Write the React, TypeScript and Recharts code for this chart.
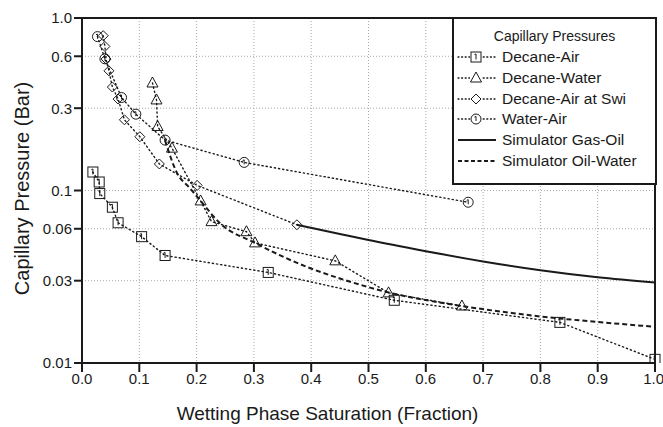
import React from "react";
import { ComposedChart, Line, XAxis, YAxis, CartesianGrid, ReferenceArea } from "recharts";

const SAT_TICKS = [0, 0.1, 0.2, 0.3, 0.4, 0.5, 0.6, 0.7, 0.8, 0.9, 1.0];
const PC_TICKS = [0.01, 0.03, 0.06, 0.1, 0.3, 0.6, 1];

// measured points (wetting saturation, capillary pressure in bar)
const decaneAirSw = [0.019, 0.030, 0.031, 0.053, 0.063, 0.104, 0.145, 0.325, 0.545, 0.834, 1.0];
const decaneAirPc = [0.128, 0.112, 0.096, 0.080, 0.065, 0.054, 0.042, 0.0335, 0.0231, 0.0172, 0.0105];

const decaneWaterSw = [0.123, 0.130, 0.132, 0.157, 0.207, 0.226, 0.287, 0.302, 0.442, 0.535, 0.663];
const decaneWaterPc = [0.42, 0.335, 0.235, 0.176, 0.087, 0.066, 0.0577, 0.0497, 0.0391, 0.0255, 0.0214];

const decaneAirSwiSw = [0.037, 0.040, 0.042, 0.047, 0.053, 0.063, 0.074, 0.101, 0.135, 0.201, 0.375];
const decaneAirSwiPc = [0.79, 0.684, 0.578, 0.494, 0.398, 0.339, 0.257, 0.205, 0.1425, 0.107, 0.0633];

const waterAirSw = [0.027, 0.040, 0.069, 0.094, 0.145, 0.283, 0.674];
const waterAirPc = [0.78, 0.58, 0.346, 0.277, 0.196, 0.1455, 0.0855];

// simulator curves
const gasOilSw = [0.375, 0.45, 0.5, 0.6, 0.7, 0.8, 0.9, 1.0];
const gasOilPc = [0.0633, 0.056, 0.0516, 0.0445, 0.0388, 0.0345, 0.0314, 0.0293];

const oilWaterSw = [0.145, 0.165, 0.1885, 0.207, 0.241, 0.302, 0.392, 0.45, 0.532, 0.663, 0.75, 0.8, 0.9, 1.0];
const oilWaterPc = [0.195, 0.128, 0.103, 0.087, 0.0645, 0.0497, 0.0361, 0.0309, 0.0258, 0.0214, 0.0195, 0.0186, 0.0173, 0.0162];

const zip = (xs: number[], ys: number[]) => xs.map((x, i) => ({ x, y: ys[i] }));

const INK = "#1a1a1a";
const FONT = "'Liberation Sans', Arial, sans-serif";

type MarkProps = { cx?: number; cy?: number };

const SquareMark = ({ cx = 0, cy = 0 }: MarkProps) => (
  <g>
    <rect x={cx - 5} y={cy - 5} width={10} height={10} fill="none" stroke={INK} strokeWidth={1} />
    <path d={`M${cx - 1.5} ${cy - 2.5} L${cx} ${cy - 3} L${cx} ${cy + 2.5}`} fill="none" stroke={INK} strokeWidth={1} />
  </g>
);

const TriangleMark = ({ cx = 0, cy = 0 }: MarkProps) => (
  <polygon points={`${cx},${cy - 6} ${cx - 5.5},${cy + 4} ${cx + 5.5},${cy + 4}`} fill="none" stroke={INK} strokeWidth={1} />
);

const DiamondMark = ({ cx = 0, cy = 0 }: MarkProps) => (
  <polygon points={`${cx},${cy - 5} ${cx + 5},${cy} ${cx},${cy + 5} ${cx - 5},${cy}`} fill="none" stroke={INK} strokeWidth={1} />
);

const CircleMark = ({ cx = 0, cy = 0 }: MarkProps) => (
  <g>
    <circle cx={cx} cy={cy} r={5} fill="none" stroke={INK} strokeWidth={1} />
    <path d={`M${cx - 1.5} ${cy - 2} L${cx} ${cy - 2.5} L${cx} ${cy + 2}`} fill="none" stroke={INK} strokeWidth={1} />
  </g>
);

const dotWith = (Mark: React.FC<MarkProps>) => (p: any) => <Mark key={`m-${p.index}`} cx={p.cx} cy={p.cy} />;

const DOTTED = "1.2 3";

const LEGEND = [
  { name: "Decane-Air", kind: "dot", Mark: SquareMark },
  { name: "Decane-Water", kind: "dot", Mark: TriangleMark },
  { name: "Decane-Air at Swi", kind: "dot", Mark: DiamondMark },
  { name: "Water-Air", kind: "dot", Mark: CircleMark },
  { name: "Simulator Gas-Oil", kind: "solid" },
  { name: "Simulator Oil-Water", kind: "dash" },
];

function LegendBox() {
  return (
    <div
      style={{
        position: "absolute", left: 452, top: 17, width: 201, height: 164,
        border: `2px solid ${INK}`, background: "#fff", fontFamily: FONT, color: INK,
      }}
    >
      <div style={{ textAlign: "center", fontSize: 14, marginTop: 8, height: 18, lineHeight: "18px" }}>Capillary Pressures</div>
      <div style={{ marginTop: 2 }}>
        {LEGEND.map((e) => (
          <div key={e.name} style={{ display: "flex", alignItems: "center", height: 20.7 }}>
            <svg width={44} height={14} style={{ marginLeft: 2 }}>
              {e.kind === "dot" && (
                <>
                  <line x1={2} y1={7} x2={40} y2={7} stroke={INK} strokeWidth={1.3} strokeDasharray="1 2.6" strokeLinecap="round" />
                  <rect x={14} y={1} width={12} height={12} fill="#fff" />
                  {e.Mark && <e.Mark cx={20} cy={7} />}
                </>
              )}
              {e.kind === "solid" && <line x1={2} y1={7} x2={40} y2={7} stroke={INK} strokeWidth={2} />}
              {e.kind === "dash" && <line x1={2} y1={7} x2={40} y2={7} stroke={INK} strokeWidth={2} strokeDasharray="4 2.5" />}
            </svg>
            <span style={{ fontSize: 15.5, marginLeft: 2, whiteSpace: "nowrap" }}>{e.name}</span>
          </div>
        ))}
      </div>
    </div>
  );
}

export default function App() {
  const fmtPc = (v: number) => (v === 1 ? "1.0" : String(v));
  const fmtSw = (v: number) => v.toFixed(1);
  return (
    <div style={{ position: "absolute", left: 0, top: 0, width: 663, height: 427, background: "#fff" }}>
      <ComposedChart width={663} height={427} margin={{ top: 18, right: 8, bottom: 0, left: 0 }}>
        <CartesianGrid stroke="#a8a8a8" strokeDasharray="1 2" />
        <XAxis
          dataKey="x" type="number" domain={[0, 1]} ticks={SAT_TICKS} tickFormatter={fmtSw}
          height={64} tickSize={9} tickMargin={1} stroke={INK} strokeWidth={2}
          tick={{ fill: INK, fontSize: 15, fontFamily: FONT }}
          label={{ value: "Wetting Phase Saturation (Fraction)", position: "center", dx: -41, dy: 18, fill: INK, fontSize: 19, fontFamily: FONT }}
        />
        <YAxis
          dataKey="y" type="number" scale="log" domain={[0.01, 1]} ticks={PC_TICKS} tickFormatter={fmtPc}
          allowDataOverflow width={82} tickSize={8} tickMargin={2} stroke={INK} strokeWidth={2}
          tick={{ fill: INK, fontSize: 15, fontFamily: FONT }}
          label={{ value: "Capillary Pressure (Bar)", angle: -90, position: "center", dx: -19, dy: -2, fill: INK, fontSize: 20, fontFamily: FONT }}
        />
        <ReferenceArea x1={0} x2={1} y1={0.01} y2={1} fill="none" stroke={INK} strokeWidth={2} ifOverflow="visible" />
        <Line data={zip(gasOilSw, gasOilPc)} dataKey="y" type="monotone" stroke={INK} strokeWidth={2} dot={false} isAnimationActive={false} />
        <Line data={zip(oilWaterSw, oilWaterPc)} dataKey="y" type="monotone" stroke={INK} strokeWidth={2} strokeDasharray="5 3" dot={false} isAnimationActive={false} />
        <Line data={zip(decaneAirSw, decaneAirPc)} dataKey="y" type="linear" stroke={INK} strokeWidth={1.4} strokeDasharray={DOTTED} strokeLinecap="round" dot={dotWith(SquareMark)} isAnimationActive={false} />
        <Line data={zip(decaneWaterSw, decaneWaterPc)} dataKey="y" type="linear" stroke={INK} strokeWidth={1.4} strokeDasharray={DOTTED} strokeLinecap="round" dot={dotWith(TriangleMark)} isAnimationActive={false} />
        <Line data={zip(decaneAirSwiSw, decaneAirSwiPc)} dataKey="y" type="linear" stroke={INK} strokeWidth={1.4} strokeDasharray={DOTTED} strokeLinecap="round" dot={dotWith(DiamondMark)} isAnimationActive={false} />
        <Line data={zip(waterAirSw, waterAirPc)} dataKey="y" type="linear" stroke={INK} strokeWidth={1.4} strokeDasharray={DOTTED} strokeLinecap="round" dot={dotWith(CircleMark)} isAnimationActive={false} />
      </ComposedChart>
      <LegendBox />
    </div>
  );
}
